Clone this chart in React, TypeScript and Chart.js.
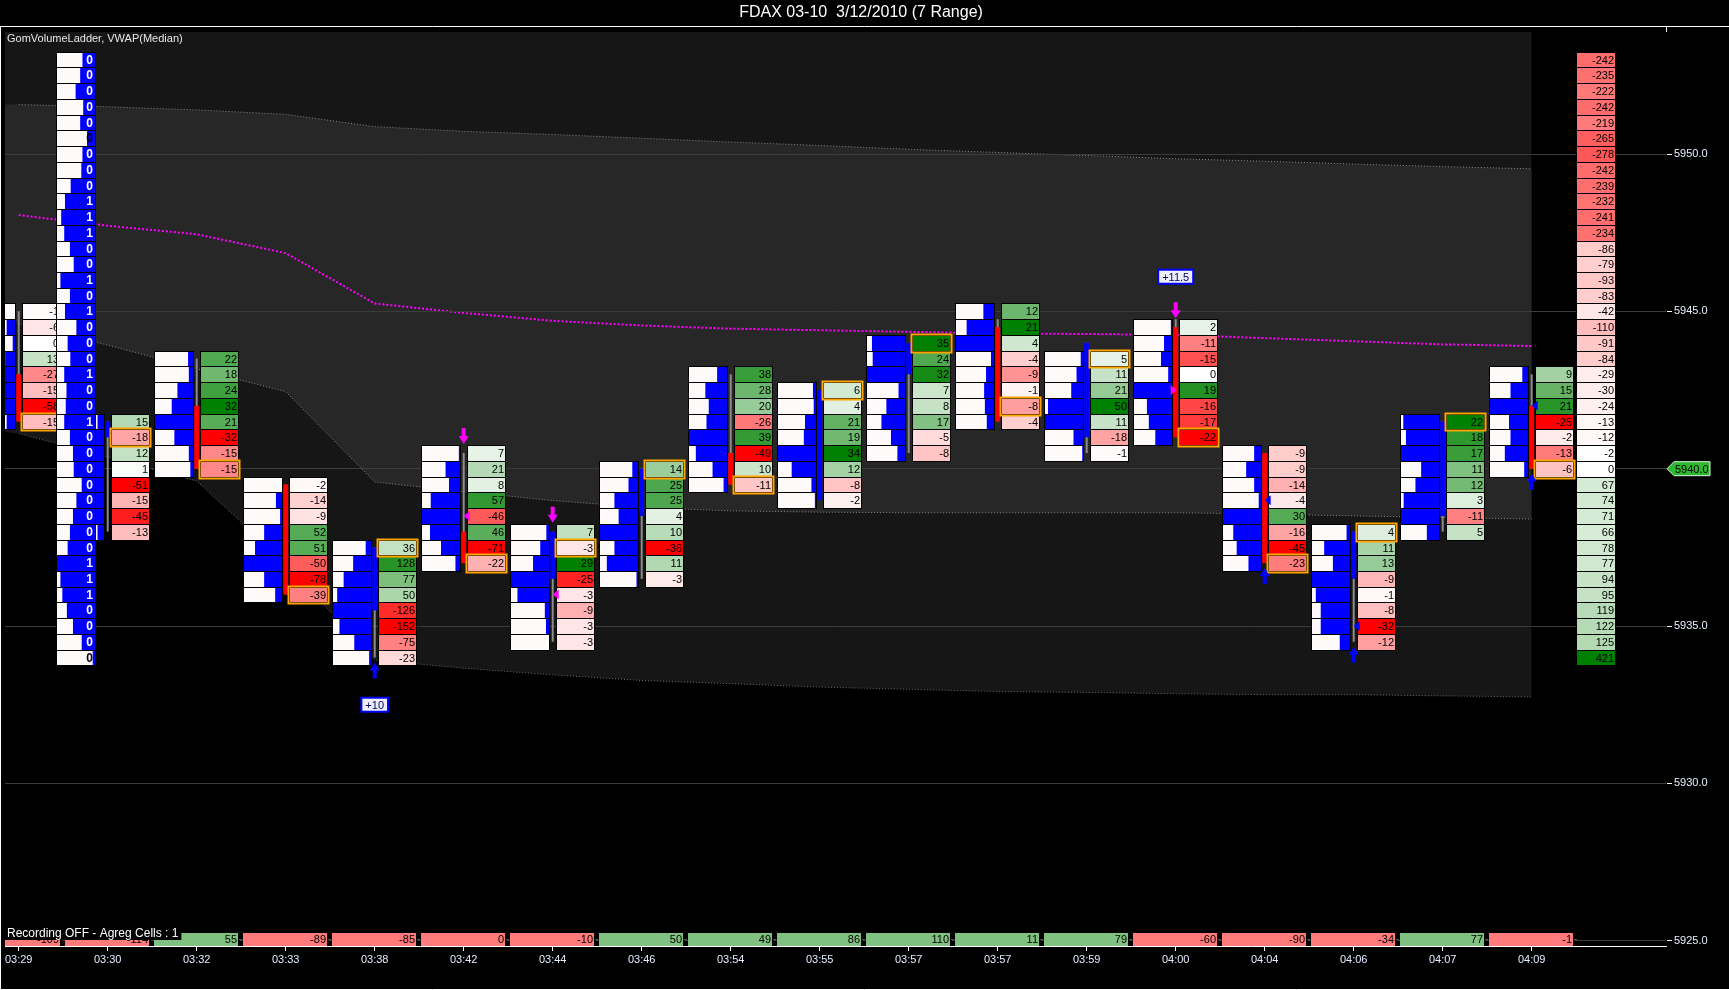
import React, { useEffect, useRef } from 'react';
import { Chart, registerables } from 'chart.js';

Chart.register(...registerables);

const FONT = '"Liberation Sans", Arial, sans-serif';
const TITLE = 'FDAX 03-10  3/12/2010 (7 Range)';
const INDICATOR_LABEL = 'GomVolumeLadder, VWAP(Median)';
const STATUS_LABEL = 'Recording OFF - Agreg Cells : 1';

// ---- categories / axes ----
const times = ['03:29', '03:30', '03:32', '03:33', '03:38', '03:42', '03:44', '03:46', '03:54', '03:55', '03:57', '03:57', '03:59', '04:00', '04:04', '04:06', '04:07', '04:09'];
const priceTicks = [5925, 5930, 5935, 5940, 5945, 5950];
const TICK = 0.5;

// ---- per-bar ladders (rows from the bar high downward, one row per 0.5 pt) ----
const barHighs = [5945, 5941.5, 5943.5, 5939.5, 5937.5, 5940.5, 5938, 5940, 5943, 5942.5, 5944, 5945, 5943.5, 5944.5, 5940.5, 5938, 5941.5, 5943];
const barDeltas = [
  [-1, -6, 0, 13, -27, -15, -58, -15],
  [15, -18, 12, 1, -51, -15, -45, -13],
  [22, 18, 24, 32, 21, -32, -15, -15],
  [-2, -14, -9, 52, 51, -50, -78, -39],
  [36, 128, 77, 50, -126, -152, -75, -23],
  [7, 21, 8, 57, -46, 46, -71, -22],
  [7, -3, 29, -25, -3, -9, -3, -3],
  [14, 25, 25, 4, 10, -36, 11, -3],
  [38, 28, 20, -26, 39, -49, 10, -11],
  [6, 4, 21, 19, 34, 12, -8, -2],
  [35, 24, 32, 7, 8, 17, -5, -8],
  [12, 21, 4, -4, -9, -1, -8, -4],
  [5, 11, 21, 50, 11, -18, -1],
  [2, -11, -15, 0, 19, -16, -17, -22],
  [-9, -9, -14, -4, 30, -16, -45, -23],
  [4, 11, 13, -9, -1, -8, -32, -12],
  [22, 18, 17, 11, 12, 3, -11, 5],
  [9, 15, 21, -25, -2, -13, -6],
];
const barAskShare = [
  [0.0, 0.22, 0.06, 0.26, 0.5, 0.6, 0.5, 0.22],
  [0.17, 0.5, 0.5, 0.5, 0.5, 0.5, 0.5, 0.17],
  [0.13, 0.11, 0.41, 0.56, 1.0, 0.49, 0.11, 0.07],
  [0.0, 0.16, 0.05, 0.47, 0.71, 1.0, 0.47, 0.18],
  [0.14, 0.47, 0.72, 0.89, 1.0, 0.83, 0.44, 0.05],
  [0.03, 0.38, 0.29, 0.77, 1.0, 0.79, 0.5, 0.12],
  [0.07, 0.23, 0.42, 1.0, 0.83, 0.11, 0.08, 0.0],
  [0.15, 0.25, 0.62, 0.51, 1.0, 0.62, 0.82, 0.04],
  [0.26, 0.57, 0.48, 0.54, 1.0, 0.82, 0.38, 0.09],
  [0.08, 0.06, 0.29, 0.32, 1.0, 0.64, 0.12, 0.03],
  [0.87, 0.85, 1.0, 0.17, 0.49, 0.62, 0.37, 0.2],
  [0.28, 0.72, 1.0, 0.08, 0.21, 0.26, 0.24, 0.19],
  [0.06, 0.17, 0.31, 0.92, 1.0, 0.25, 0.02],
  [0.03, 0.21, 0.29, 0.1, 1.0, 0.66, 0.61, 0.44],
  [0.18, 0.39, 0.18, 0.06, 1.0, 0.73, 0.64, 0.33],
  [0.09, 0.68, 0.45, 1.0, 0.9, 0.77, 0.77, 0.27],
  [0.94, 0.87, 1.0, 0.47, 0.62, 0.93, 1.0, 0.32],
  [0.15, 0.46, 1.0, 0.5, 0.46, 0.61, 0.1],
];
const barCloses = [5941.5, 5941, 5940, 5936, 5937.5, 5937, 5937.5, 5940, 5939.5, 5942.5, 5944, 5942, 5943.5, 5941, 5937, 5938, 5941.5, 5940];
const bodyTop = [5943, 5941.5, 5942, 5939.5, 5937.5, 5938, 5938, 5940, 5940.5, 5942.5, 5944, 5944.5, 5944, 5944.5, 5940.5, 5938, 5941.5, 5942];
const bodyBottom = [5941.5, 5941, 5940, 5936, 5935.5, 5937, 5936.5, 5938.5, 5939.5, 5939, 5943, 5941.5, 5941, 5941, 5937, 5936.5, 5938.5, 5940];
const wickHigh = [5945, 5941.5, 5943.5, 5939.5, 5937.5, 5940.5, 5938, 5940, 5943, 5942.5, 5944, 5944.75, 5944, 5944.75, 5940.5, 5938, 5941.5, 5943];
const wickLow = [5941.5, 5938, 5940, 5936, 5934, 5937, 5934.5, 5936.5, 5939.5, 5939, 5940.5, 5941.5, 5940.5, 5941, 5937, 5934.5, 5938, 5940];
const candleUp = [false, true, false, false, true, false, true, true, false, true, true, false, true, false, false, true, true, false];
const barTotals = [-109, -114, 55, -89, -85, 0, -10, 50, 49, 86, 110, 11, 79, -60, -90, -34, 77, -1];

// ---- session ladder (left) and session delta profile (right) ----
const sessionTop = 5953;
const ladderValues = [0, 0, 0, 0, 0, 0, 0, 0, 0, 1, 1, 1, 0, 0, 1, 0, 1, 0, 0, 0, 1, 0, 0, 1, 0, 0, 0, 0, 0, 0, 0, 0, 1, 1, 1, 0, 0, 0, 0];
const ladderAskShare = [0.33, 0.39, 0.51, 0.31, 0.39, 0.21, 0.33, 0.36, 0.64, 0.79, 0.89, 0.81, 0.66, 0.56, 0.91, 0.66, 0.79, 0.49, 0.72, 0.65, 0.81, 0.75, 0.77, 0.81, 0.66, 0.58, 0.56, 0.35, 0.49, 0.58, 0.66, 0.72, 1.0, 0.91, 0.86, 0.74, 0.58, 0.35, 0.06];
const profileDeltas = [-242, -235, -222, -242, -219, -265, -278, -242, -239, -232, -241, -234, -86, -79, -93, -83, -42, -110, -91, -84, -29, -30, -24, -13, -12, -2, 0, 67, 74, 71, 66, 78, 77, 94, 95, 119, 122, 125, 421];

// ---- VWAP and bands (per bar; first value of *Ext is the bar before 03:29) ----
const vwap = [5948.06, 5947.72, 5947.45, 5946.85, 5945.25, 5944.95, 5944.7, 5944.55, 5944.45, 5944.4, 5944.35, 5944.3, 5944.28, 5944.25, 5944.15, 5944.05, 5943.95, 5943.9];
const upperBand = [5951.57, 5951.5, 5951.4, 5951.26, 5950.87, 5950.72, 5950.62, 5950.5, 5950.38, 5950.27, 5950.15, 5950.05, 5949.95, 5949.85, 5949.77, 5949.68, 5949.6, 5949.53];
const lowerBand = [5944.6, 5943.93, 5943.17, 5942.45, 5939.58, 5939.27, 5938.99, 5938.77, 5938.66, 5938.62, 5938.6, 5938.6, 5938.6, 5938.6, 5938.56, 5938.5, 5938.45, 5938.4];
const outerLowerBand = [5941.12, 5940.37, 5939.61, 5937.0, 5933.92, 5933.66, 5933.45, 5933.27, 5933.17, 5933.06, 5932.99, 5932.92, 5932.89, 5932.85, 5932.82, 5932.82, 5932.78, 5932.75];
const bandsBefore = { upper: 5951.6, lower: 5944.9, outer: 5941.4 };

// ---- annotations ----
const downArrowBars = [5, 6, 13];
const upArrowBars = [4, 14, 15, 17];
const rowMarkers = [
  { bar: 5, price: 5938.5, color: '#ff00ff', dir: -1 },
  { bar: 6, price: 5936, color: '#ff00ff', dir: -1 },
  { bar: 13, price: 5942.5, color: '#ff00ff', dir: 1 },
  { bar: 14, price: 5939, color: '#0000ff', dir: -1 },
  { bar: 15, price: 5935, color: '#0000ff', dir: -1 },
  { bar: 17, price: 5942, color: '#0000ff', dir: -1 },
];
const swingLabels = [
  { bar: 4, price: 5932.5, text: '+10' },
  { bar: 13, price: 5946.1, text: '+11.5' },
];
const lastPrice = 5940;

// ---- axis window ----
const X_MIN = -0.154;
const X_MAX = 18.509;
const Y_MIN = 5924.833;
const Y_MAX = 5953.877;
const LADDER_X = 0.415;
const PROFILE_X = 17.497;

function deltaColor(v: number, maxAbs: number): string {
  const t = maxAbs > 0 ? Math.min(1, Math.abs(v) / maxAbs) : 0;
  if (v >= 0) {
    const r = Math.round(255 * (1 - t));
    const g = Math.round(255 - 127 * t);
    return `rgb(${r},${g},${r})`;
  }
  const gb = Math.round(255 * (1 - t));
  return `rgb(255,${gb},${gb})`;
}

export default function App() {
  const ref = useRef<HTMLCanvasElement | null>(null);

  useEffect(() => {
    const canvas = ref.current;
    if (!canvas) return;

    const pts = (arr: number[]) => arr.map((y, i) => ({ x: i, y }));
    const ext = (first: number, arr: number[]) => [{ x: -1, y: first }, ...pts(arr)];

    const cellPlugin = {
      id: 'volumeLadder',
      afterDraw(chart: any) {
        const ctx: CanvasRenderingContext2D = chart.ctx;
        const xs = chart.scales.x;
        const ys = chart.scales.y;
        const area = chart.chartArea;
        const X = (v: number) => xs.getPixelForValue(v);
        const Y = (p: number) => ys.getPixelForValue(p);
        const font = (s: number, bold = false) => `${bold ? 'bold ' : ''}${s}px ${FONT}`;

        const box = (x: number, p: number, w: number, fill: string) => {
          const t = Math.round(Y(p + TICK / 2));
          const b = Math.round(Y(p - TICK / 2));
          const l = Math.round(x);
          ctx.fillStyle = '#000';
          ctx.fillRect(l, t, w, b - t + 1);
          ctx.fillStyle = fill;
          ctx.fillRect(l + 1, t + 1, w - 2, b - t - 1);
          return { l, t, b };
        };
        const histCell = (x: number, p: number, w: number, share: number) => {
          const { l, t, b } = box(x, p, w, '#fffafa');
          const bw = (w - 2) * share;
          ctx.fillStyle = '#0000ff';
          ctx.fillRect(l + 1 + (w - 2) - bw, t + 1, bw, b - t - 1);
          return { l, t, b };
        };
        const deltaCell = (x: number, p: number, w: number, v: number, maxAbs: number) => {
          const { l, t, b } = box(x, p, w, deltaColor(v, maxAbs));
          ctx.fillStyle = '#000';
          ctx.font = font(11);
          ctx.textAlign = 'right';
          ctx.textBaseline = 'middle';
          ctx.fillText(String(v), l + w - 2, (t + b) / 2 + 1);
          return { l, t, b };
        };

        ctx.save();
        ctx.beginPath();
        ctx.rect(area.left, area.top, area.right - area.left, area.bottom - area.top);
        ctx.clip();

        // bars
        barHighs.forEach((high, i) => {
          const c = X(i);
          const deltas = barDeltas[i];
          const maxAbs = Math.max(...deltas.map((d) => Math.abs(d)));
          deltas.forEach((d, k) => {
            const p = high - k * TICK;
            histCell(c - 43, p, 40, barAskShare[i][k]);
            deltaCell(c + 3, p, 39, d, maxAbs);
          });
          // candle
          ctx.strokeStyle = '#8c8c8c';
          ctx.lineWidth = 2;
          ctx.beginPath();
          ctx.moveTo(c, Y(wickHigh[i]));
          ctx.lineTo(c, Y(wickLow[i]));
          ctx.stroke();
          ctx.fillStyle = candleUp[i] ? '#0000ff' : '#ff0000';
          const bt = Y(bodyTop[i]);
          const bb = Y(bodyBottom[i]);
          ctx.fillRect(c - 2.5, bt, 5, Math.max(2, bb - bt));
          // close cell highlight
          const ct = Math.round(Y(barCloses[i] + TICK / 2));
          const cb = Math.round(Y(barCloses[i] - TICK / 2));
          ctx.strokeStyle = '#ffa500';
          ctx.lineWidth = 2;
          ctx.strokeRect(Math.round(c + 3) - 0.5, ct - 0.5, 40, cb - ct + 2);
        });

        // session ladder
        const ladderLeft = X(LADDER_X);
        ladderValues.forEach((v, k) => {
          const p = sessionTop - k * TICK;
          const share = ladderAskShare[k];
          const { l, t, b } = histCell(ladderLeft, p, 40, share);
          ctx.fillStyle = share > 0.25 ? '#ffffff' : '#000000';
          ctx.font = font(12, true);
          ctx.textAlign = 'right';
          ctx.textBaseline = 'middle';
          ctx.fillText(String(v), l + 37, (t + b) / 2 + 1);
        });

        // session delta profile
        const profLeft = X(PROFILE_X);
        const profMax = Math.max(...profileDeltas.map((d) => Math.abs(d)));
        profileDeltas.forEach((d, k) => {
          deltaCell(profLeft, sessionTop - k * TICK, 40, d, profMax);
        });

        // arrows
        downArrowBars.forEach((i) => {
          const c = X(i);
          const tip = Y(barHighs[i] + TICK / 2) - 1;
          ctx.fillStyle = '#ff00ff';
          ctx.fillRect(c - 2, tip - 16, 4, 9);
          ctx.beginPath();
          ctx.moveTo(c - 5, tip - 8);
          ctx.lineTo(c + 5, tip - 8);
          ctx.lineTo(c, tip);
          ctx.closePath();
          ctx.fill();
        });
        upArrowBars.forEach((i) => {
          const c = X(i);
          const low = barHighs[i] - (barDeltas[i].length - 1) * TICK;
          const tip = Y(low - TICK / 2) - 3;
          ctx.fillStyle = '#0000ff';
          ctx.beginPath();
          ctx.moveTo(c - 5, tip + 8);
          ctx.lineTo(c + 5, tip + 8);
          ctx.lineTo(c, tip);
          ctx.closePath();
          ctx.fill();
          ctx.fillRect(c - 2, tip + 7, 4, 9);
        });
        rowMarkers.forEach((m) => {
          const c = X(m.bar);
          const y = Y(m.price);
          ctx.fillStyle = m.color;
          ctx.beginPath();
          if (m.dir < 0) {
            ctx.moveTo(c, y);
            ctx.lineTo(c + 6, y - 5);
            ctx.lineTo(c + 6, y + 5);
          } else {
            ctx.moveTo(c + 1, y);
            ctx.lineTo(c - 5, y - 5);
            ctx.lineTo(c - 5, y + 5);
          }
          ctx.closePath();
          ctx.fill();
        });
        swingLabels.forEach((s) => {
          const c = X(s.bar);
          const y = Y(s.price);
          ctx.font = font(11);
          const w = ctx.measureText(s.text).width + 8;
          ctx.fillStyle = '#eeeef8';
          ctx.fillRect(c - w / 2, y - 7, w, 14);
          ctx.strokeStyle = '#0000ff';
          ctx.lineWidth = 2;
          ctx.strokeRect(c - w / 2, y - 7, w, 14);
          ctx.fillStyle = '#000070';
          ctx.textAlign = 'center';
          ctx.textBaseline = 'middle';
          ctx.fillText(s.text, c, y + 1);
        });

        // indicator caption
        ctx.fillStyle = '#e6e6e6';
        ctx.font = font(11);
        ctx.textAlign = 'left';
        ctx.textBaseline = 'middle';
        ctx.fillText(INDICATOR_LABEL, 7, 39);

        // bar totals row
        const tT = area.bottom - 14;
        barTotals.forEach((v, i) => {
          const c = X(i);
          const l = Math.round(c - 43);
          ctx.fillStyle = '#000';
          ctx.fillRect(l, tT, 86, 14);
          ctx.fillStyle = v > 0 ? '#80c080' : '#ff7b7b';
          ctx.fillRect(l, tT + 1, 84, 13);
          ctx.fillStyle = '#555';
          ctx.fillRect(l + 85, tT + 7, 3, 1);
          ctx.fillStyle = '#000';
          ctx.font = font(11);
          ctx.textAlign = 'right';
          ctx.textBaseline = 'middle';
          ctx.fillText(String(v), l + 83, tT + 8);
        });
        ctx.font = font(12);
        const sw = ctx.measureText(STATUS_LABEL).width;
        ctx.fillStyle = '#000';
        ctx.fillRect(5, 928, sw + 5, 12);
        ctx.fillStyle = '#ffffff';
        ctx.textAlign = 'left';
        ctx.textBaseline = 'middle';
        ctx.fillText(STATUS_LABEL, 7, 934);

        ctx.restore();

        // last price tag on the axis
        const ly = Y(lastPrice);
        const ax = area.right;
        ctx.beginPath();
        ctx.moveTo(ax + 1, ly);
        ctx.lineTo(ax + 8, ly - 7);
        ctx.lineTo(ax + 44, ly - 7);
        ctx.lineTo(ax + 44, ly + 7);
        ctx.lineTo(ax + 8, ly + 7);
        ctx.closePath();
        ctx.fillStyle = '#2eb82e';
        ctx.fill();
        ctx.strokeStyle = '#d8f5d8';
        ctx.lineWidth = 1;
        ctx.stroke();
        ctx.fillStyle = '#000';
        ctx.font = font(11);
        ctx.textAlign = 'left';
        ctx.textBaseline = 'middle';
        ctx.fillText(lastPrice.toFixed(1), ax + 9, ly + 1);

        // frame and title
        ctx.strokeStyle = '#ffffff';
        ctx.lineWidth = 1;
        ctx.beginPath();
        ctx.moveTo(0, 26.5);
        ctx.lineTo(chart.width, 26.5);
        ctx.moveTo(0.5, 26.5);
        ctx.lineTo(0.5, 989.5);
        ctx.moveTo(0, 989.5);
        ctx.lineTo(chart.width, 989.5);
        ctx.moveTo(ax + 0.5, 26.5);
        ctx.lineTo(ax + 0.5, area.top);
        ctx.stroke();
        ctx.fillStyle = '#ffffff';
        ctx.font = font(16);
        ctx.textAlign = 'center';
        ctx.textBaseline = 'middle';
        ctx.fillText(TITLE, 861, 13);
      },
    };

    const chart = new Chart(canvas, {
      type: 'line',
      data: {
        datasets: [
          { label: 'VWAP', data: pts(vwap), borderColor: '#ff00ff', borderWidth: 2, borderDash: [2, 2], fill: false, order: 1 },
          { label: 'Upper', data: pts(upperBand), borderColor: '#8a8a8a', borderWidth: 1, borderDash: [1, 2], fill: false, order: 2 },
          { label: 'Lower', data: pts(lowerBand), borderColor: '#8a8a8a', borderWidth: 1, borderDash: [1, 2], fill: false, order: 2 },
          { label: 'Outer lower', data: pts(outerLowerBand), borderColor: '#6a6a6a', borderWidth: 1, borderDash: [1, 2], fill: false, order: 2 },
          { label: 'inner fill top', data: ext(bandsBefore.upper, upperBand), borderWidth: 0, borderColor: 'rgba(0,0,0,0)', backgroundColor: '#272727', fill: '+1', order: 9 },
          { label: 'inner fill bottom', data: ext(bandsBefore.lower, lowerBand), borderWidth: 0, borderColor: 'rgba(0,0,0,0)', fill: false, order: 9 },
          { label: 'outer fill', data: ext(bandsBefore.outer, outerLowerBand), borderWidth: 0, borderColor: 'rgba(0,0,0,0)', backgroundColor: '#161616', fill: 'end', order: 10 },
        ],
      },
      options: {
        animation: false,
        responsive: false,
        devicePixelRatio: 1,
        events: [],
        layout: { padding: { left: 5, top: 32, right: 0, bottom: 0 } },
        elements: { point: { radius: 0 }, line: { tension: 0 } },
        plugins: { legend: { display: false }, tooltip: { enabled: false }, title: { display: false } },
        scales: {
          x: {
            type: 'linear',
            position: 'bottom',
            min: X_MIN,
            max: X_MAX,
            afterBuildTicks: (s: any) => {
              s.ticks = times.map((_, i) => ({ value: i }));
            },
            afterFit: (s: any) => {
              s.height = 44;
              s.paddingLeft = 0;
              s.paddingRight = 0;
            },
            grid: { drawOnChartArea: false, tickLength: 5, tickColor: '#ffffff' },
            border: { color: '#ffffff', width: 1 },
            ticks: {
              color: '#e4ecff',
              font: { family: FONT, size: 11 },
              padding: 2,
              maxRotation: 0,
              autoSkip: false,
              callback: (v: any) => times[Math.round(Number(v))] ?? '',
            },
          },
          y: {
            type: 'linear',
            position: 'right',
            min: Y_MIN,
            max: Y_MAX,
            afterBuildTicks: (s: any) => {
              s.ticks = priceTicks.map((v) => ({ value: v }));
            },
            afterFit: (s: any) => {
              s.width = 63;
              s.paddingTop = 0;
              s.paddingBottom = 0;
            },
            grid: { color: '#3c3c3c', tickColor: '#ffffff', tickLength: 6, z: 1 },
            border: { color: '#ffffff', width: 1 },
            ticks: {
              color: '#e8f0ff',
              font: { family: FONT, size: 11 },
              padding: 2,
              callback: (v: any) => Number(v).toFixed(1),
            },
          },
        },
      },
      plugins: [cellPlugin],
    } as any);

    return () => chart.destroy();
  }, []);

  return (
    <div style={{ position: 'fixed', left: 0, top: 0, width: 1729, height: 990, background: '#000' }}>
      <canvas ref={ref} width={1729} height={990} style={{ display: 'block', width: 1729, height: 990 }} />
    </div>
  );
}
